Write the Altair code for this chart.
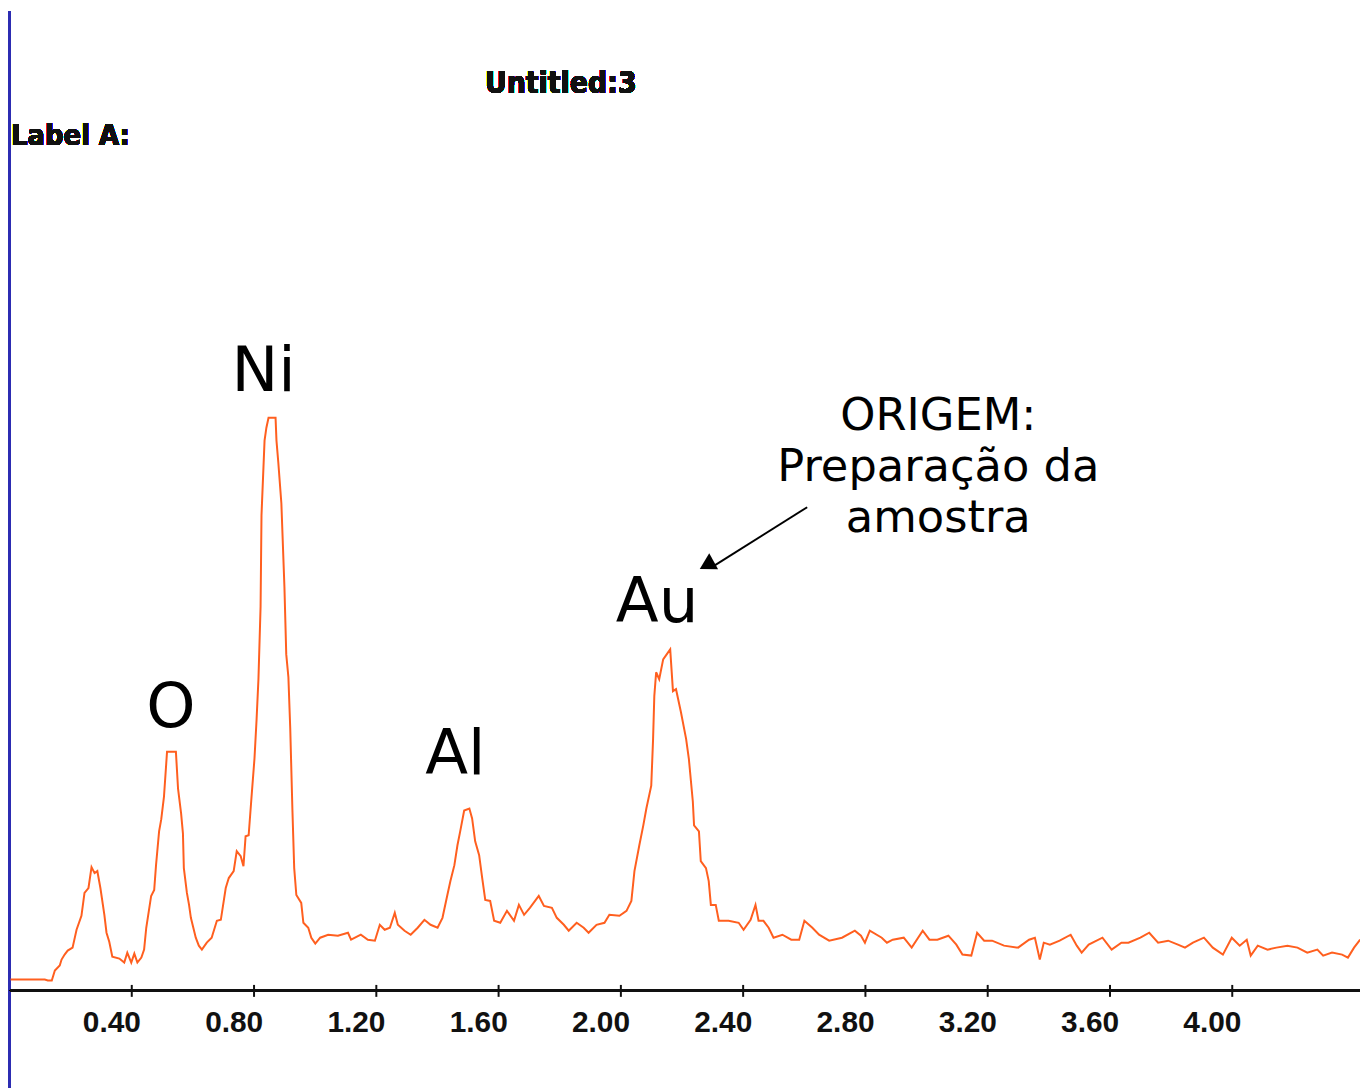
import altair as alt
import pandas as pd

# EDS spectrum: energy (keV) and counts
energy_kev = [0.005, 0.117, 0.127, 0.140, 0.150, 0.166, 0.172, 0.182, 0.192, 0.208, 0.221, 0.237, 0.247, 0.260,
              0.270, 0.280, 0.289, 0.299, 0.312, 0.319, 0.328, 0.338, 0.361, 0.377, 0.387, 0.400, 0.410, 0.420,
              0.433, 0.442, 0.449, 0.465, 0.475, 0.481, 0.491, 0.498, 0.507, 0.517, 0.546, 0.553, 0.563, 0.569,
              0.572, 0.582, 0.589, 0.595, 0.611, 0.621, 0.631, 0.647, 0.663, 0.680, 0.693, 0.709, 0.719, 0.735,
              0.745, 0.758, 0.767, 0.774, 0.784, 0.793, 0.803, 0.810, 0.816, 0.823, 0.826, 0.836, 0.842, 0.849,
              0.872, 0.875, 0.881, 0.891, 0.901, 0.907, 0.914, 0.920, 0.927, 0.933, 0.940, 0.956, 0.963, 0.979,
              0.989, 1.002, 1.018, 1.044, 1.076, 1.109, 1.119, 1.151, 1.174, 1.197, 1.213, 1.229, 1.246, 1.262,
              1.272, 1.294, 1.314, 1.337, 1.359, 1.379, 1.402, 1.418, 1.434, 1.444, 1.457, 1.467, 1.476, 1.489,
              1.506, 1.515, 1.525, 1.538, 1.548, 1.558, 1.574, 1.587, 1.607, 1.629, 1.652, 1.668, 1.685, 1.704,
              1.733, 1.750, 1.776, 1.792, 1.815, 1.831, 1.857, 1.880, 1.896, 1.922, 1.948, 1.964, 1.997, 2.020,
              2.036, 2.046, 2.062, 2.075, 2.085, 2.101, 2.107, 2.111, 2.117, 2.127, 2.140, 2.156, 2.163, 2.172,
              2.182, 2.198, 2.215, 2.224, 2.237, 2.241, 2.257, 2.263, 2.280, 2.289, 2.296, 2.312, 2.322, 2.354,
              2.387, 2.403, 2.426, 2.442, 2.452, 2.468, 2.485, 2.501, 2.530, 2.559, 2.585, 2.602, 2.628, 2.650,
              2.683, 2.725, 2.767, 2.787, 2.800, 2.816, 2.855, 2.872, 2.891, 2.927, 2.953, 2.989, 3.011, 3.037,
              3.073, 3.099, 3.119, 3.148, 3.167, 3.190, 3.216, 3.255, 3.301, 3.337, 3.356, 3.372, 3.385, 3.405,
              3.437, 3.473, 3.493, 3.509, 3.532, 3.577, 3.607, 3.639, 3.662, 3.701, 3.730, 3.759, 3.792, 3.824,
              3.847, 3.873, 3.909, 3.938, 3.971, 4.000, 4.026, 4.049, 4.062, 4.085, 4.117, 4.146, 4.182, 4.215,
              4.247, 4.280, 4.299, 4.328, 4.361, 4.380, 4.400, 4.420]

counts = [5, 5, 4, 4, 14, 19, 25, 30, 34, 37, 55, 69, 92, 97,
          118, 112, 114, 97, 70, 52, 43, 28, 26, 22, 32, 22, 31, 22,
          27, 35, 57, 89, 95, 120, 154, 166, 189, 234, 234, 197, 172, 152,
          117, 92, 80, 67, 47, 39, 35, 42, 47, 64, 65, 97, 107, 114,
          134, 129, 119, 149, 150, 187, 227, 267, 307, 380, 472, 547, 560, 570,
          570, 547, 525, 484, 400, 332, 309, 258, 177, 117, 90, 82, 62, 57,
          47, 41, 47, 50, 49, 52, 45, 50, 45, 44, 60, 55, 57, 72,
          60, 54, 50, 57, 65, 60, 57, 67, 90, 104, 120, 140, 154, 175,
          177, 167, 144, 130, 107, 85, 84, 64, 62, 74, 64, 80, 70, 77,
          89, 79, 77, 67, 60, 54, 62, 57, 52, 60, 62, 70, 69, 74,
          84, 114, 140, 160, 177, 200, 247, 290, 314, 307, 327, 334, 337, 295,
          297, 274, 247, 227, 184, 160, 154, 124, 117, 104, 80, 80, 64, 64,
          62, 55, 65, 80, 64, 64, 57, 47, 50, 45, 45, 64, 57, 50,
          44, 47, 54, 49, 42, 54, 47, 42, 45, 47, 37, 54, 45, 45,
          49, 40, 30, 29, 52, 44, 44, 39, 37, 45, 47, 25, 42, 40,
          44, 50, 39, 32, 40, 47, 35, 42, 42, 47, 52, 42, 44, 40,
          37, 42, 47, 37, 30, 47, 39, 45, 29, 39, 35, 37, 39, 37,
          32, 35, 29, 32, 30, 27, 37, 45]

assert len(energy_kev) == len(counts)

tick_values = [0.40, 0.80, 1.20, 1.60, 2.00, 2.40, 2.80, 3.20, 3.60, 4.00]

# Peak labels (element symbols) placed at energy / counts positions
peak_names = ["O", "Ni", "Al", "Au"]
peak_label_kev = [0.530, 0.833, 1.460, 2.120]
peak_label_counts = [259, 597, 212, 365]

# Note text
note_lines = ["ORIGEM:", "Preparação da", "amostra"]
note_kev = [3.040, 3.040, 3.040]
note_counts = [558, 506, 455]

# Arrow from the note towards the Au peak
arrow_start_kev = [2.611]
arrow_start_counts = [480]
arrow_end_kev = [2.306]
arrow_end_counts = [421]
arrow_head_kev = [2.290]
arrow_head_counts = [423]

X_DOMAIN = [-0.00325, 4.4195]
Y_DOMAIN = [0, 979]
W, H = 1360, 979

spec = pd.DataFrame({"keV": energy_kev, "counts": counts})
peaks = pd.DataFrame({"name": peak_names, "keV": peak_label_kev, "counts": peak_label_counts})
notes = pd.DataFrame({"line": note_lines, "keV": note_kev, "counts": note_counts})
arrow = pd.DataFrame({"x1": arrow_start_kev, "y1": arrow_start_counts,
                      "x2": arrow_end_kev, "y2": arrow_end_counts})
head = pd.DataFrame({"keV": arrow_head_kev, "counts": arrow_head_counts})

xscale = alt.Scale(domain=X_DOMAIN, nice=False, zero=False)
yscale = alt.Scale(domain=Y_DOMAIN, nice=False, zero=False)

x_axis = alt.Axis(values=tick_values, format=".2f", domain=False, grid=False,
                  ticks=True, tickSize=12, tickWidth=2, tickColor="#111111",
                  labelFont="Liberation Sans", labelFontWeight="bold", labelFontSize=30,
                  labelColor="#111111", labelOffset=-20, labelPadding=11,
                  labelFlush=False, labelOverlap=False, title=None)

line = alt.Chart(spec).mark_line(color="#ff5f1f", strokeWidth=2, clip=True).encode(
    x=alt.X("keV:Q", scale=xscale, axis=x_axis),
    y=alt.Y("counts:Q", scale=yscale, axis=None),
)

axis_line = alt.Chart(spec).mark_rule(color="#111111", strokeWidth=2.5).encode(
    x=alt.value(2), x2=alt.value(W), y=alt.value(985)
)

blue_strip = alt.Chart(spec).mark_rect(color="#2c2cb2").encode(
    x=alt.value(0), x2=alt.value(3), y=alt.value(0), y2=alt.value(H + 104)
)

peak_text = alt.Chart(peaks).mark_text(font="DejaVu Sans", fontSize=63, color="black",
                                       align="center", baseline="alphabetic").encode(
    x=alt.X("keV:Q", scale=xscale), y=alt.Y("counts:Q", scale=yscale), text="name:N"
)

note_text = alt.Chart(notes).mark_text(font="DejaVu Sans", fontSize=45, color="black",
                                       align="center", baseline="alphabetic").encode(
    x=alt.X("keV:Q", scale=xscale), y=alt.Y("counts:Q", scale=yscale), text="line:N"
)

arrow_line = alt.Chart(arrow).mark_rule(color="black", strokeWidth=2).encode(
    x=alt.X("x1:Q", scale=xscale), y=alt.Y("y1:Q", scale=yscale),
    x2="x2:Q", y2="y2:Q"
)

arrow_head = alt.Chart(head).mark_point(shape="triangle", filled=True, color="black",
                                        size=340, angle=241, opacity=1).encode(
    x=alt.X("keV:Q", scale=xscale), y=alt.Y("counts:Q", scale=yscale)
)

title_font = "Liberation Sans Narrow, DejaVu Sans Condensed, Arial Narrow, sans-serif"
title_text = alt.Chart(spec).mark_text(text="Untitled:3", font=title_font, fontWeight="bold",
                                       fontSize=30, color="#111111", align="center",
                                       baseline="alphabetic").encode(
    x=alt.value(556), y=alt.value(82)
)
label_a = alt.Chart(spec).mark_text(text="Label A:", font=title_font, fontWeight="bold",
                                    fontSize=29, color="#111111", align="left",
                                    baseline="alphabetic").encode(
    x=alt.value(3), y=alt.value(135)
)

chart = alt.layer(
    blue_strip, axis_line, line, peak_text, note_text, arrow_line, arrow_head, title_text, label_a
).properties(
    width=W, height=H,
    autosize=alt.AutoSizeParams(type="none"),
    padding={"left": 0, "top": 0, "right": 0, "bottom": 104},
    background="white",
).configure_view(stroke=None)

chart.save("out.html", embed_options={"renderer": "svg", "actions": False})
